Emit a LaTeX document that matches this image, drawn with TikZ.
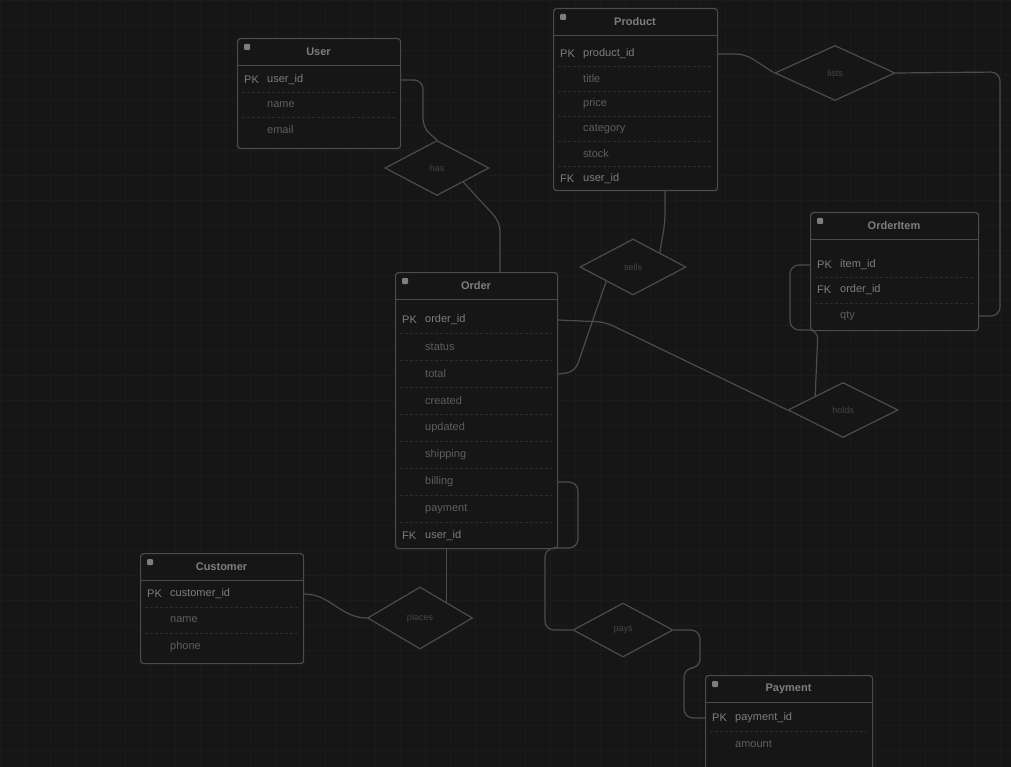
\documentclass[tikz,border=0pt]{standalone}
\usepackage{fontspec}
\setmainfont{Liberation Sans}
\usetikzlibrary{shapes.geometric}
\definecolor{bg}{HTML}{161616}
\definecolor{gridc}{HTML}{1B1B1B}
\definecolor{lnc}{HTML}{4C4C4C}
\definecolor{sepc}{HTML}{2C2C2C}
\definecolor{txc}{HTML}{5E5E5E}
\definecolor{hic}{HTML}{7E7E7E}
\definecolor{rlc}{HTML}{464646}
\tikzset{
  ebox/.style={draw=lnc, line width=1.2pt, rounded corners=3pt, fill=bg, anchor=north west, inner sep=0pt},
  hdrline/.style={draw=lnc, line width=0.9pt},
  rowsep/.style={draw=sepc, line width=0.7pt, dash pattern=on 3pt off 2pt},
  rel/.style={diamond, draw=lnc, line width=1.2pt, fill=bg, inner sep=0pt, text=rlc, font=\fontsize{9}{10}\selectfont},
  conn/.style={draw=lnc, line width=1.2pt, rounded corners=9pt},
  attr/.style={text=txc, anchor=west, inner sep=0pt, font=\fontsize{11}{13}\selectfont},
  keyt/.style={attr, text=hic},
  ttl/.style={text=hic, inner sep=0pt, font=\fontsize{11}{13}\selectfont\bfseries},
  icon/.style={fill=hic, minimum size=6pt, inner sep=0pt, rounded corners=1pt}
}
% #1 name, #2 x, #3 y, #4 width, #5 height, #6 title
\newcommand{\mkent}[6]{%
  \node[ebox, minimum width=#4, minimum height=#5] (#1) at (#2,#3) {};
  \node[icon] (#1i) at (#2+10,#3+9) {};
  \node[ttl] (#1t) at (#2+#4/2,#3+14) {#6};
  \draw[hdrline] (#2,#3+27) -- (#2+#4,#3+27);
}
% #1 entity, #2 row id, #3 y, #4 text, #5 style
\newcommand{\mkrow}[5]{\node[#5, xshift=30pt] (#1r#2) at (#1.west |- 0,#3) {#4};}
% #1 entity, #2 row id, #3 y, #4 key text
\newcommand{\mkkey}[4]{\node[keyt, xshift=7pt] (#1k#2) at (#1.west |- 0,#3) {#4};}
\newcommand{\mksep}[3]{\draw[rowsep] (#1+5,#2) -- (#1+#3-5,#2);}

\begin{document}
\begin{tikzpicture}[x=1pt,y=-1pt]
\useasboundingbox (0,0) rectangle (1011,767);
\fill[bg] (0,0) rectangle (1011,767);
\foreach \i in {0,25,...,1000} \draw[gridc, line width=0.6pt] (\i,0) -- (\i,767);
\foreach \j in {0,25,...,750} \draw[gridc, line width=0.6pt] (0,\j) -- (1011,\j);

% ---------- entities ----------
\mkent{E1}{237}{38}{163}{110}{User}
\mkkey{E1}{1}{80}{PK}\mkrow{E1}{1}{80}{user\_id}{keyt}
\mkrow{E1}{2}{105}{name}{attr}
\mkrow{E1}{3}{130}{email}{attr}
\mksep{237}{92.5}{163}\mksep{237}{117.5}{163}

\mkent{E2}{553}{8}{164}{182}{Product}
\mkkey{E2}{1}{54}{PK}\mkrow{E2}{1}{54}{product\_id}{keyt}
\mkrow{E2}{2}{79}{title}{attr}
\mkrow{E2}{3}{104}{price}{attr}
\mkrow{E2}{4}{129}{category}{attr}
\mkrow{E2}{5}{154}{stock}{attr}
\mkkey{E2}{6}{179}{FK}\mkrow{E2}{6}{179}{user\_id}{keyt}
\mksep{553}{66.5}{164}\mksep{553}{91.5}{164}\mksep{553}{116.5}{164}\mksep{553}{141.5}{164}\mksep{553}{166.5}{164}

\mkent{E3}{395}{272}{162}{276}{Order}
\mkkey{E3}{1}{320}{PK}\mkrow{E3}{1}{320}{order\_id}{keyt}
\mkrow{E3}{2}{347}{status}{attr}
\mkrow{E3}{3}{374}{total}{attr}
\mkrow{E3}{4}{401}{created}{attr}
\mkrow{E3}{5}{428}{updated}{attr}
\mkrow{E3}{6}{455}{shipping}{attr}
\mkrow{E3}{7}{482}{billing}{attr}
\mkrow{E3}{8}{509}{payment}{attr}
\mkkey{E3}{9}{536}{FK}\mkrow{E3}{9}{536}{user\_id}{keyt}
\foreach \s in {333.5,360.5,387.5,414.5,441.5,468.5,495.5,522.5} {\mksep{395}{\s}{162}}

\mkent{E4}{810}{212}{168}{118}{OrderItem}
\mkkey{E4}{1}{265}{PK}\mkrow{E4}{1}{265}{item\_id}{keyt}
\mkkey{E4}{2}{290}{FK}\mkrow{E4}{2}{290}{order\_id}{keyt}
\mkrow{E4}{3}{316}{qty}{attr}
\mksep{810}{277.5}{168}\mksep{810}{303}{168}

\mkent{E5}{140}{553}{163}{110}{Customer}
\mkkey{E5}{1}{594}{PK}\mkrow{E5}{1}{594}{customer\_id}{keyt}
\mkrow{E5}{2}{620}{name}{attr}
\mkrow{E5}{3}{647}{phone}{attr}
\mksep{140}{607}{163}\mksep{140}{633.5}{163}

\mkent{E6}{705}{675}{167}{110}{Payment}
\mkkey{E6}{1}{718}{PK}\mkrow{E6}{1}{718}{payment\_id}{keyt}
\mkrow{E6}{2}{744}{amount}{attr}
\mksep{705}{731}{167}

% ---------- relationships ----------
\node[rel, minimum width=104pt, minimum height=55pt] (D1) at (437,168) {has};
\node[rel, minimum width=120pt, minimum height=55pt] (D2) at (835,73) {lists};
\node[rel, minimum width=106pt, minimum height=56pt] (D3) at (633,267) {sells};
\node[rel, minimum width=110pt, minimum height=55pt] (D4) at (843,410) {holds};
\node[rel, minimum width=105pt, minimum height=62pt] (D5) at (420,618) {places};
\node[rel, minimum width=100pt, minimum height=54pt] (D6) at (623,630) {pays};

% ---------- connectors ----------
\draw[conn] (E1r1 -| E1.east) -- (423,80) -- (423,128) -- (D1.north);
\draw[conn] (D1.south east) -- (500,222) -- (500,0 |- E3.north);
\draw[conn] (E2r1 -| E2.east) -- (745,54) -- (D2.west);
\draw[conn] (D2.east) -- (1000,72) -- (1000,316) -- (E4r3 -| E4.east);
\draw[conn] (665,0 |- E2.south) -- (665,222) -- (D3.north east);
\draw[conn] (D3.south west) -- (575,372) -- (E3r3 -| E3.east);
\draw[conn] (E3r1 -| E3.east) -- (605,322) -- (D4.west);
\draw[conn] (E4r1 -| E4.west) -- (790,265) -- (790,330) -- (818,330) -- (D4.north west);
\draw[conn] (E3r7 -| E3.east) -- (578,482) -- (578,548) -- (545,548) -- (545,630) -- (D6.west);
\draw[conn] (D6.east) -- (700,630) -- (700,668) -- (684,668) -- (684,718) -- (E6r1 -| E6.west);
\draw[conn, rounded corners=0pt] (E5r1 -| E5.east) to[out=0, in=180] (D5.west);
\draw[conn] (D5.north east) -- (D5.north east |- E3.south);
\end{tikzpicture}
\end{document}
